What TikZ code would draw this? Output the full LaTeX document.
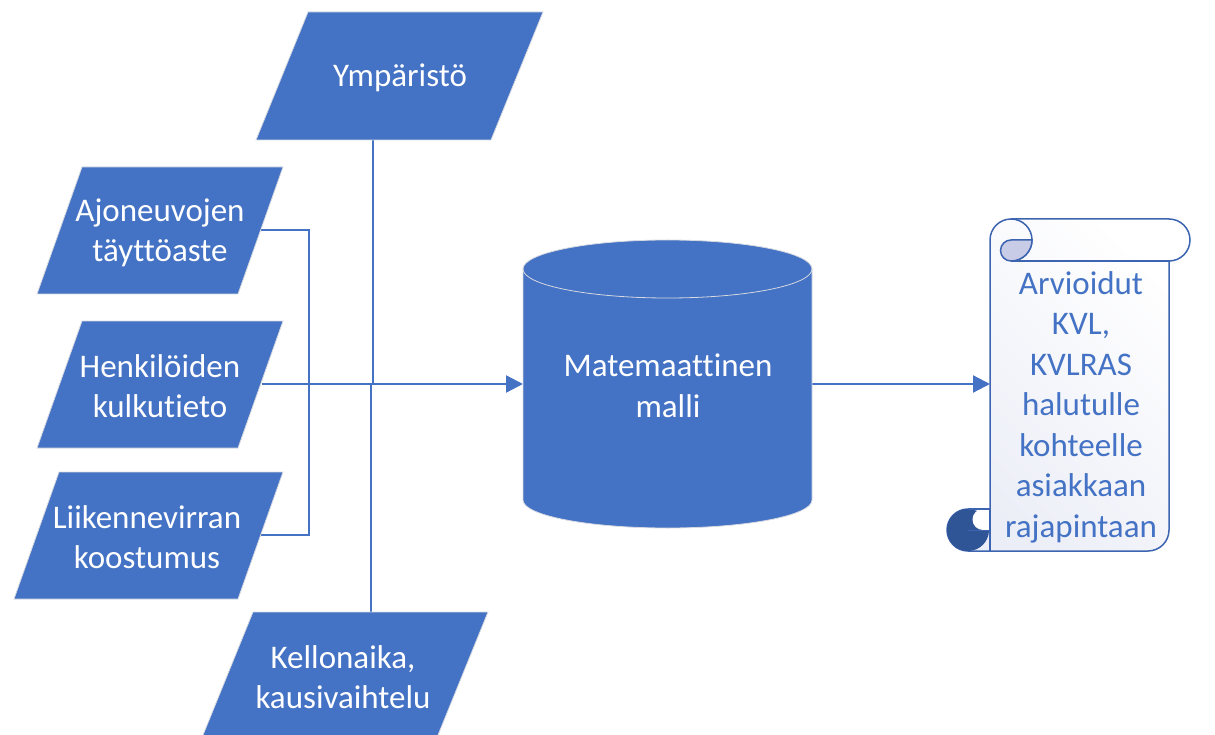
\documentclass[tikz,border=0pt]{standalone}
\usepackage{fontspec}
\setmainfont{Carlito}[Ligatures=NoCommon]
\usetikzlibrary{arrows.meta}
\definecolor{offblue}{HTML}{4472C4}
\definecolor{edgegray}{HTML}{D6D9E0}
\definecolor{scrollline}{HTML}{3C64B0}
\definecolor{curldark}{HTML}{2F5597}
\definecolor{lavender}{HTML}{C8CCE6}
\definecolor{scrolltop}{HTML}{ECEEF7}
\begin{document}
\begin{tikzpicture}[x=1pt,y=-1pt,
  para/.style={fill=offblue, draw=edgegray, line width=0.8pt},
  wtext/.style={text=white, align=center, font=\fontsize{33}{40.5}\selectfont, inner sep=0pt},
  btext/.style={text=offblue, align=center, font=\fontsize{33}{40.5}\selectfont, inner sep=0pt},
  conn/.style={draw=offblue, line width=2.2pt},
  arr/.style={-{Triangle[length=17pt,width=17pt]}},
  sline/.style={draw=scrollline, line width=1.5pt}
]
\useasboundingbox (0,0) rectangle (1215,735);
\clip (0,0) rectangle (1215,735);

% connector endpoints
\coordinate (ajo-e) at (261,230);
\coordinate (henk-e) at (262,384);
\coordinate (liik-e) at (260,535);
\coordinate (bus) at (309,384);
\coordinate (ymp-s) at (373,140);
\coordinate (kello-n) at (371,612);
\coordinate (cyl-w) at (523,384);
\coordinate (cyl-e) at (812,384);
\coordinate (scroll-w) at (990,384);

% connectors
\draw[conn] (ajo-e) -| (bus) |- (liik-e);
\draw[conn] (ymp-s) -- (ymp-s |- henk-e);
\draw[conn] (kello-n) -- (kello-n |- henk-e);
\draw[conn,arr] (henk-e) -- (cyl-w);
\draw[conn,arr] (cyl-e) -- (scroll-w);

% parallelograms
\path[para] (308,12) -- (543,12) -- (491,140) -- (256,140) -- cycle;
\node[wtext] (ymp) at (400,78) {Ympäristö};

\path[para] (82,167) -- (283,167) -- (238,294) -- (37,294) -- cycle;
\node[wtext] (ajo) at (160,233) {Ajoneuvojen\\täyttöaste};

\path[para] (82,321) -- (283,321) -- (238,448) -- (37,448) -- cycle;
\node[wtext] (henk) at (160,386) {Henkilöiden\\kulkutieto};

\path[para] (59,472) -- (283,472) -- (238,599) -- (14,599) -- cycle;
\node[wtext] (liik) at (147,537) {Liikennevirran\\koostumus};

\path[para] (253,612) -- (488,612) -- (436,740) -- (201,740) -- cycle;
\node[wtext] (kello) at (343,677) {Kellonaika,\\kausivaihtelu};

% cylinder
\path[fill=offblue, draw=edgegray, line width=0.8pt] (523,269) -- (523,500)
  arc[start angle=180, end angle=360, x radius=144.5pt, y radius=28pt]
  -- (812,269) arc[start angle=0, end angle=180, x radius=144.5pt, y radius=29pt] -- cycle;
\draw[edgegray, line width=0.8pt] (523,269) arc[start angle=180, end angle=360, x radius=144.5pt, y radius=29pt];
\node[wtext] (cyl) at (668,386) {Matemaattinen\\malli};

% scroll
\path[left color=scrolltop, right color=white, shading angle=135, sline]
  (990,530) -- (990,240) arc[start angle=180, end angle=90, radius=21pt]
  -- (1169,219) arc[start angle=90, end angle=-90, radius=21pt]
  -- (1169,530) arc[start angle=0, end angle=-90, radius=21pt]
  -- (968,551) arc[start angle=-90, end angle=-270, radius=21pt]
  -- (990,509) -- cycle;
\draw[sline] (1011,261) -- (1169,261);
\draw[sline] (1011,219) arc[start angle=90, end angle=-90, radius=21pt];
\path[fill=lavender, sline] (1011,240) -- (1032,240)
  arc[start angle=0, end angle=-90, radius=21pt]
  arc[start angle=-90, end angle=-270, radius=10.5pt] -- cycle;
\fill[curldark] (968,530) circle[radius=21pt];
\path[fill=white] (983,509) -- (990,509) -- (990,530) -- (983,530)
  arc[start angle=-90, end angle=-270, radius=10.5pt] -- cycle;
\draw[scrollline, line width=1pt] (968,530) -- (990,530);
\draw[sline] (968,509) -- (990,509) -- (990,551);
\node[btext] (out) at (1081,407) {Arvioidut\\KVL,\\KVLRAS\\halutulle\\kohteelle\\asiakkaan\\rajapintaan};
\end{tikzpicture}
\end{document}
